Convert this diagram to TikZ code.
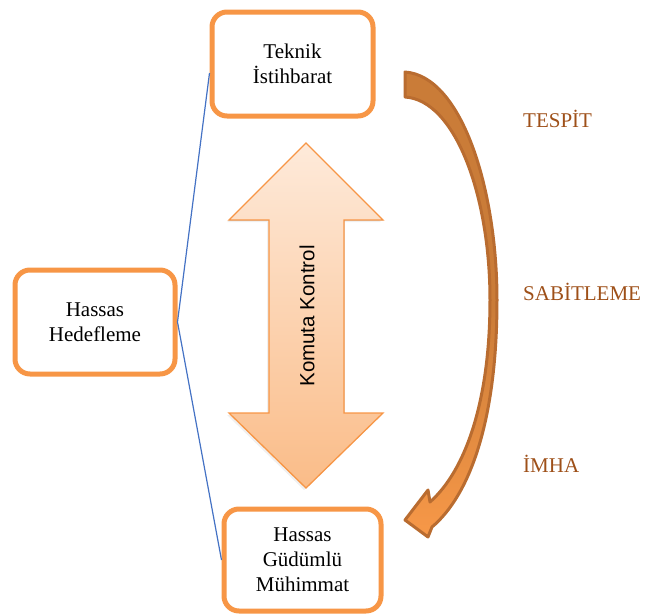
\documentclass[tikz,border=0pt]{standalone}
\usepackage{fontspec}
\setmainfont{Liberation Serif}
\newfontfamily\arialfont{Liberation Sans}
\usetikzlibrary{shadows}
\definecolor{boxorange}{RGB}{247,150,70}
\definecolor{linkblue}{RGB}{68,114,196}
\definecolor{stepbrown}{RGB}{158,80,25}
\definecolor{curvedark}{RGB}{185,108,48}
\definecolor{curvetop}{RGB}{202,124,56}
\definecolor{curvebottom}{RGB}{247,152,72}
\definecolor{kktop}{RGB}{254,234,218}
\definecolor{kkbottom}{RGB}{250,188,136}
\tikzset{
  stagebox/.style={draw=boxorange, line width=5pt, rounded corners=15pt,
    fill=white, align=center, inner sep=0pt,
    font=\fontsize{21}{25}\selectfont},
  link/.style={draw=linkblue, line width=1.2pt},
  steplabel/.style={text=stepbrown, anchor=base west, inner sep=0pt,
    font=\fontsize{21}{25}\selectfont},
}
\begin{document}
\begin{tikzpicture}[x=1pt, y=-1pt]
\useasboundingbox (0,0) rectangle (646,614);

% double-headed command arrow
\filldraw[draw=boxorange, line width=1.3pt, line join=miter,
  top color=kktop, bottom color=kkbottom,
  drop shadow={shadow xshift=-2pt, shadow yshift=-2pt, opacity=0.12}]
  (306,143) -- (383,220) -- (344,220) -- (344,413) -- (383,413)
  -- (306,488) -- (229,413) -- (269,413) -- (269,220) -- (229,220) -- cycle;
\node[rotate=90, font=\arialfont\fontsize{20.5}{24}\selectfont, inner sep=0pt]
  (kk) at (307,316) {Komuta Kontrol};

% curved process arrow on the right
\filldraw[draw=curvedark, line width=3pt, line join=round,
  top color=curvetop, bottom color=curvebottom, middle color=curvetop]
  (405,72) .. controls (462,76) and (497,190) .. (497,300)
  .. controls (497,420) and (470,495) .. (432,527)
  -- (428,537) -- (405,520) -- (428,490) -- (430,502)
  .. controls (466,470) and (490,400) .. (490,300)
  .. controls (490,195) and (455,100) .. (405,97) -- cycle;

% stage boxes
\node[stagebox, minimum width=161pt, minimum height=104pt] (T) at (292.5,64)
  {Teknik\\İstihbarat};
\node[stagebox, minimum width=160pt, minimum height=104pt] (H) at (95,322)
  {Hassas\\Hedefleme};
\node[stagebox, minimum width=157pt, minimum height=102pt] (G) at (302.5,560)
  {Hassas\\Güdümlü\\Mühimmat};

% links from the targeting box
\draw[link] (T.west) ++(0,9) coordinate (t1) -- (H.east) -- (G.west);

% step labels
\node[steplabel] (s1) at (523,127) {TESPİT};
\node[steplabel] (s2) at (523,300) {SABİTLEME};
\node[steplabel] (s3) at (523,472) {İMHA};
\end{tikzpicture}
\end{document}
